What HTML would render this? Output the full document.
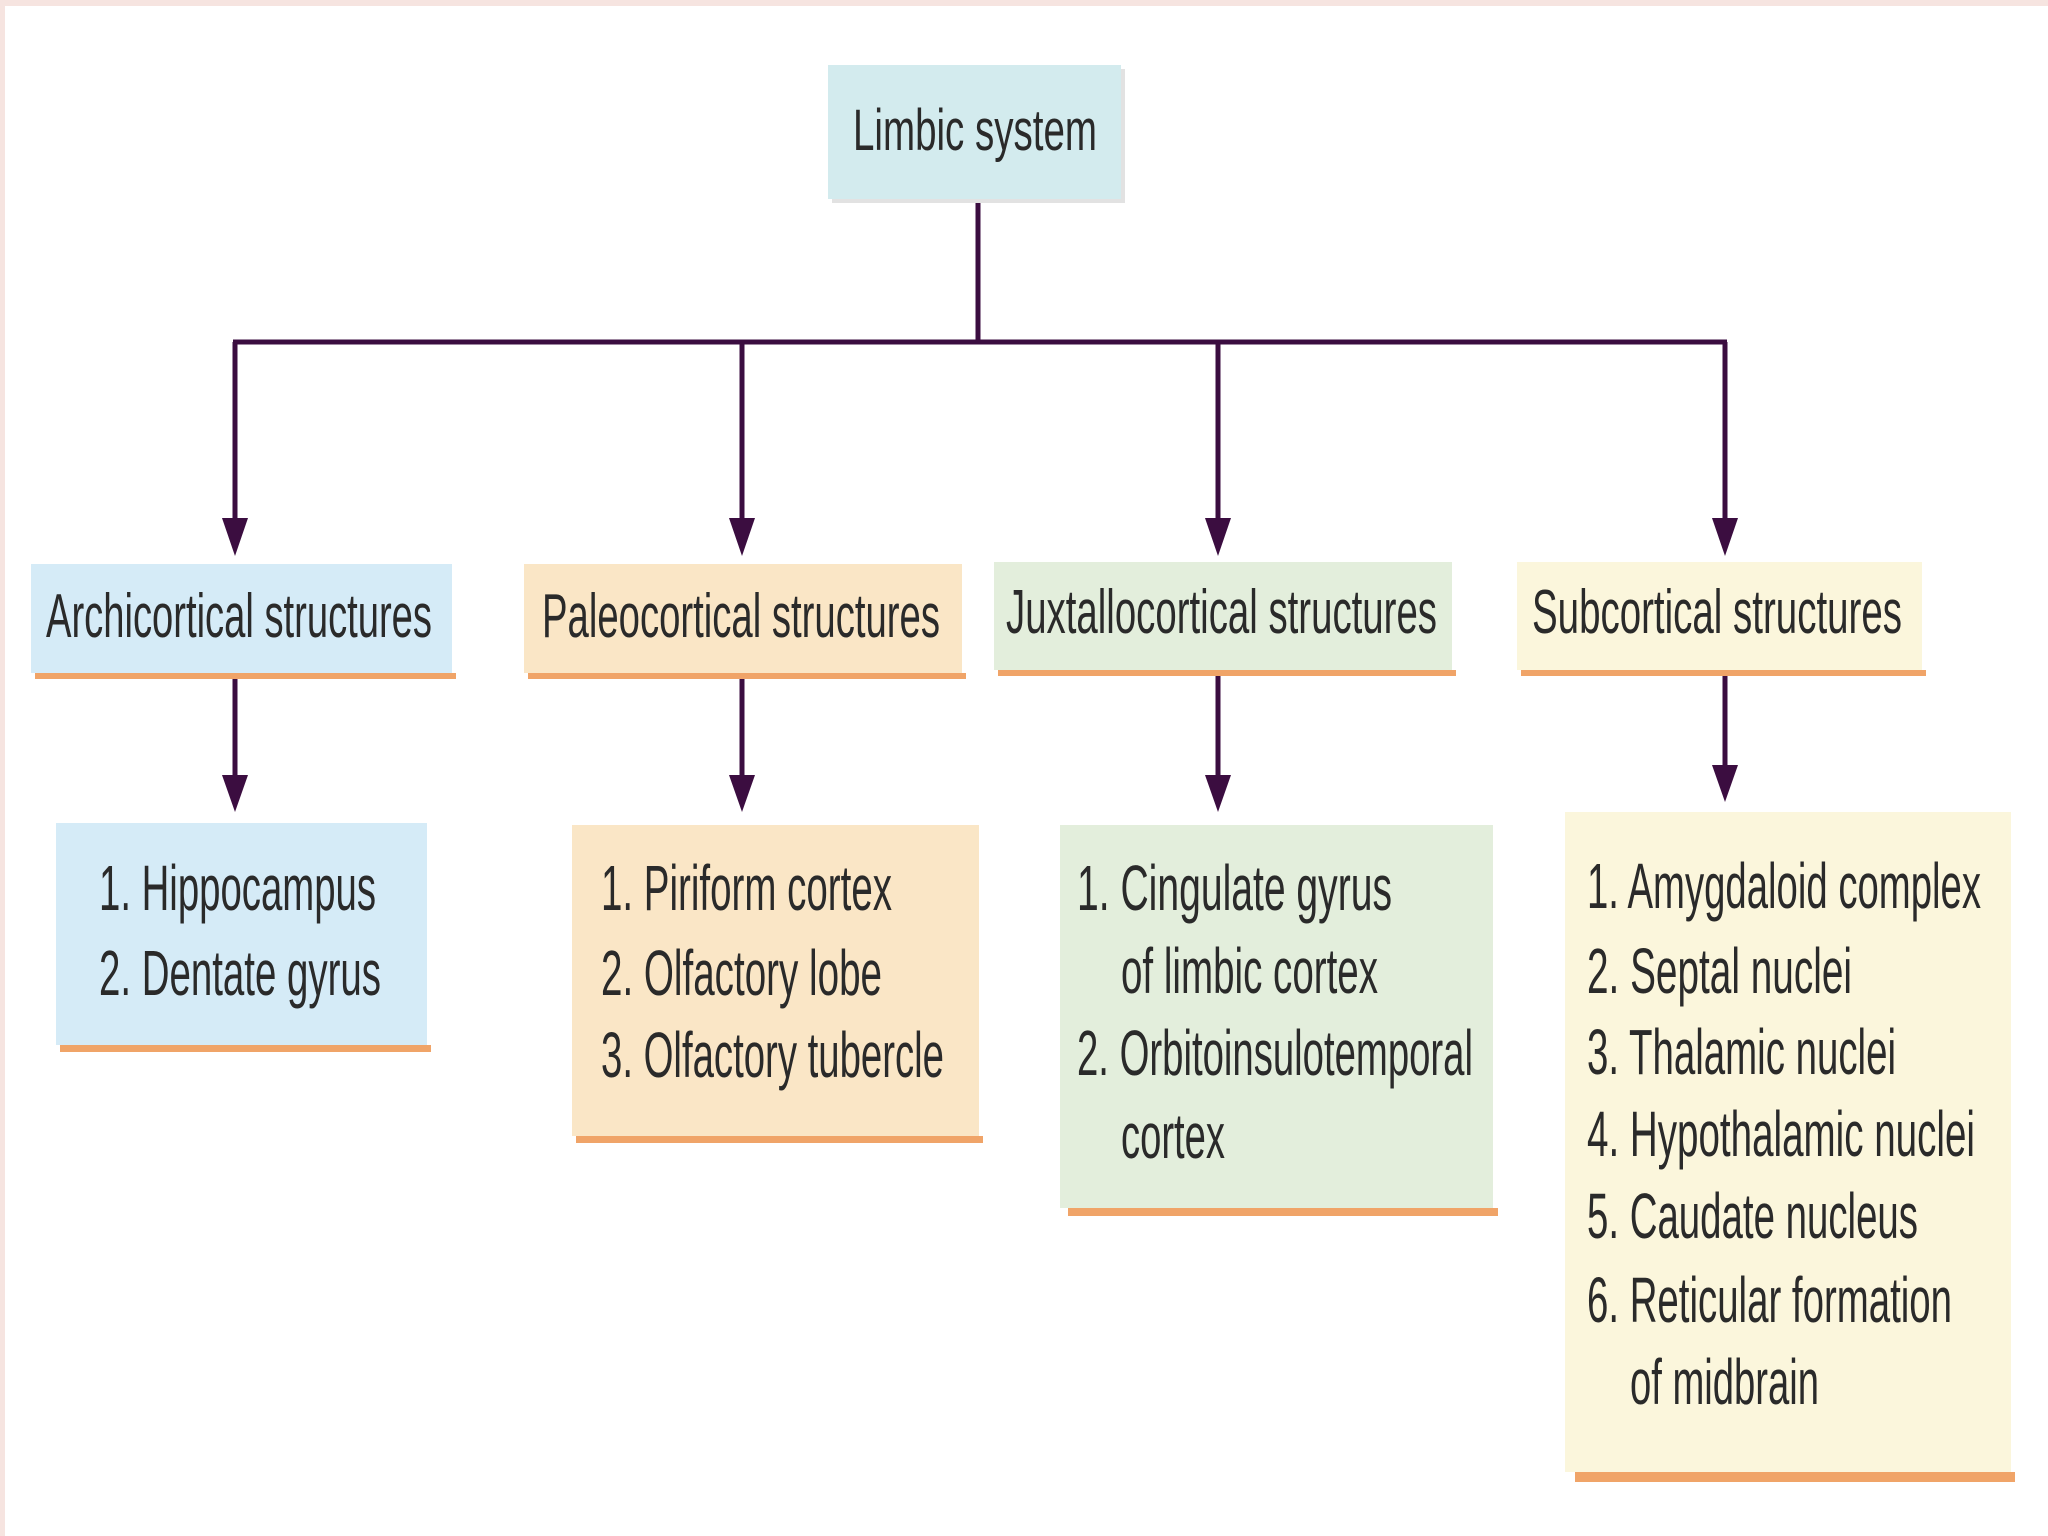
<!DOCTYPE html>
<html><head><meta charset="utf-8"><style>
html,body{margin:0;padding:0;background:#fff;}
svg{display:block;}
text{font-family:"Liberation Sans",Arial,sans-serif;fill:#2a2a2a;}
</style></head><body>
<svg width="2048" height="1536" viewBox="0 0 2048 1536" xmlns="http://www.w3.org/2000/svg">
<rect x="0" y="0" width="2048" height="1536" fill="#fff"/>
<rect x="0" y="0" width="2048" height="6" fill="#f6e4e0"/>
<rect x="0" y="0" width="5" height="1536" fill="#f6e4e0"/>
<defs>
<marker id="ah" markerWidth="10" markerHeight="10" refX="5" refY="10" orient="auto"></marker>
</defs>
<!-- connectors -->
<g stroke="#3b0d40" stroke-width="5" fill="none">
<line x1="978" y1="199" x2="978" y2="342"/>
<line x1="233" y1="342" x2="1727" y2="342"/>
<line x1="235" y1="342" x2="235" y2="525"/>
<line x1="742" y1="342" x2="742" y2="525"/>
<line x1="1218" y1="342" x2="1218" y2="525"/>
<line x1="1725" y1="342" x2="1725" y2="525"/>
<line x1="235" y1="673" x2="235" y2="780"/>
<line x1="742" y1="673" x2="742" y2="780"/>
<line x1="1218" y1="670" x2="1218" y2="780"/>
<line x1="1725" y1="670" x2="1725" y2="770"/>
</g>
<g fill="#3b0d40">
<polygon points="222,518 248,518 235,556"/>
<polygon points="729,518 755,518 742,556"/>
<polygon points="1205,518 1231,518 1218,556"/>
<polygon points="1712,518 1738,518 1725,556"/>
<polygon points="222,775 248,775 235,812"/>
<polygon points="729,775 755,775 742,812"/>
<polygon points="1205,775 1231,775 1218,812"/>
<polygon points="1712,765 1738,765 1725,802"/>
</g>
<!-- boxes: shadow + fill -->
<g>
<rect x="832" y="69" width="293" height="134" fill="#e2e2e2"/>
<rect x="828" y="65" width="293" height="134" fill="#d3ebee"/>

<rect x="35" y="673" width="421" height="6" fill="#f0a468"/>
<rect x="31" y="564" width="421" height="109" fill="#d5ebf7"/>
<rect x="528" y="673" width="438" height="6" fill="#f0a468"/>
<rect x="524" y="564" width="438" height="109" fill="#fae6c6"/>
<rect x="998" y="670" width="458" height="6" fill="#f0a468"/>
<rect x="994" y="562" width="458" height="108" fill="#e3eedc"/>
<rect x="1521" y="670" width="405" height="6" fill="#f0a468"/>
<rect x="1517" y="562" width="405" height="108" fill="#fbf6dc"/>

<rect x="60" y="1045" width="371" height="7" fill="#f0a468"/>
<rect x="56" y="823" width="371" height="222" fill="#d5ebf7"/>
<rect x="576" y="1136" width="407" height="7" fill="#f0a468"/>
<rect x="572" y="825" width="407" height="311" fill="#fae6c6"/>
<rect x="1068" y="1208" width="430" height="8" fill="#f0a468"/>
<rect x="1060" y="825" width="433" height="383" fill="#e3eedc"/>
<rect x="1575" y="1472" width="440" height="10" fill="#f0a468"/>
<rect x="1565" y="812" width="446" height="660" fill="#fbf6dc"/>
</g>
<!-- text -->
<text x="853" y="150" font-size="58" textLength="244" lengthAdjust="spacingAndGlyphs">Limbic system</text>

<text x="46" y="637" font-size="62" textLength="386" lengthAdjust="spacingAndGlyphs">Archicortical structures</text>
<text x="542" y="637" font-size="62" textLength="398" lengthAdjust="spacingAndGlyphs">Paleocortical structures</text>
<text x="1006" y="633" font-size="62" textLength="431" lengthAdjust="spacingAndGlyphs">Juxtallocortical structures</text>
<text x="1532" y="633" font-size="62" textLength="370" lengthAdjust="spacingAndGlyphs">Subcortical structures</text>

<g font-size="64">
<text x="99" y="910" textLength="277" lengthAdjust="spacingAndGlyphs">1. Hippocampus</text>
<text x="99" y="995" textLength="282" lengthAdjust="spacingAndGlyphs">2. Dentate gyrus</text>

<text x="601" y="910" textLength="291" lengthAdjust="spacingAndGlyphs">1. Piriform cortex</text>
<text x="601" y="995" textLength="281" lengthAdjust="spacingAndGlyphs">2. Olfactory lobe</text>
<text x="601" y="1077" textLength="343" lengthAdjust="spacingAndGlyphs">3. Olfactory tubercle</text>

<text x="1077" y="910" textLength="315" lengthAdjust="spacingAndGlyphs">1. Cingulate gyrus</text>
<text x="1121" y="993" textLength="257" lengthAdjust="spacingAndGlyphs">of limbic cortex</text>
<text x="1077" y="1075" textLength="396" lengthAdjust="spacingAndGlyphs">2. Orbitoinsulotemporal</text>
<text x="1121" y="1158" textLength="104" lengthAdjust="spacingAndGlyphs">cortex</text>

<text x="1587" y="908" textLength="394" lengthAdjust="spacingAndGlyphs">1. Amygdaloid complex</text>
<text x="1587" y="993" textLength="265" lengthAdjust="spacingAndGlyphs">2. Septal nuclei</text>
<text x="1587" y="1074" textLength="309" lengthAdjust="spacingAndGlyphs">3. Thalamic nuclei</text>
<text x="1587" y="1156" textLength="388" lengthAdjust="spacingAndGlyphs">4. Hypothalamic nuclei</text>
<text x="1587" y="1238" textLength="331" lengthAdjust="spacingAndGlyphs">5. Caudate nucleus</text>
<text x="1587" y="1322" textLength="365" lengthAdjust="spacingAndGlyphs">6. Reticular formation</text>
<text x="1630" y="1404" textLength="189" lengthAdjust="spacingAndGlyphs">of midbrain</text>
</g>
</svg>
</body></html>
